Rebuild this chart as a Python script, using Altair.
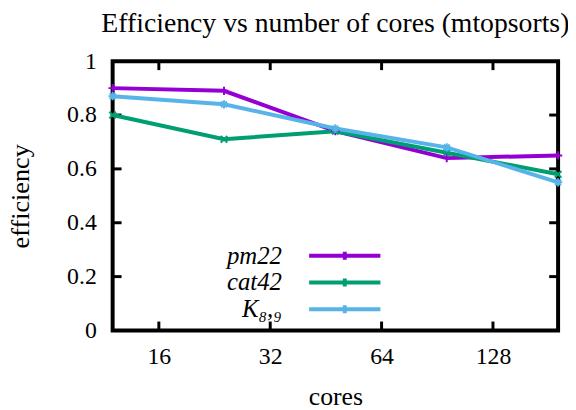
import altair as alt
import pandas as pd

# ---- data ----
cores = [12, 24, 48, 96, 192]
series_names = ["pm22", "cat42", "K₈,₉"]
pm22 = [0.90, 0.89, 0.74, 0.64, 0.65]
cat42 = [0.80, 0.71, 0.74, 0.66, 0.58]
k89 = [0.87, 0.84, 0.75, 0.68, 0.55]
x_tick_values = [16, 32, 64, 128]
y_tick_values = [0, 0.2, 0.4, 0.6, 0.8, 1.0]
inner_y_ticks = [0.2, 0.4, 0.6, 0.8]

colors = ["#9400D3", "#009E73", "#56B4E9"]
markers = [
    "M-1,0H1M0,-1V1",
    "M-0.8,-0.8L0.8,0.8M-0.8,0.8L0.8,-0.8",
    "M-1,0H1M0,-1V1M-0.7,-0.7L0.7,0.7M-0.7,0.7L0.7,-0.7",
]
# legend sample: a line segment drawn to the right of its label, with a small marker
legend_symbol = "M6.667,0H18.667M12.667,-0.667V0.667M12,0H13.333"

rows = []
for name, vals in zip(series_names, [pm22, cat42, k89]):
    for c, v in zip(cores, vals):
        rows.append({"cores": c, "eff": v, "series": name})
df = pd.DataFrame(rows)

SERIF = "Liberation Serif"

x_scale = alt.Scale(type="log", base=2, domain=[cores[0], cores[-1]], nice=False, zero=False)
y_scale = alt.Scale(domain=[y_tick_values[0], y_tick_values[-1]], nice=False, zero=False)

x_axis = alt.Axis(
    values=x_tick_values, format="d", title="cores", grid=False, domain=False,
    ticks=False, tickSize=0, labelFont=SERIF, labelFontSize=24, labelColor="black",
    labelBaseline="alphabetic", labelPadding=33.7, labelFlush=False,
    titleFont=SERIF, titleFontSize=26, titleFontWeight="normal", titleColor="black",
    titleBaseline="alphabetic", titleY=74.7, titleX=225,
)
y_axis = alt.Axis(
    values=y_tick_values, format="~g", title="efficiency", grid=False, domain=False,
    ticks=False, tickSize=0, labelFont=SERIF, labelFontSize=24, labelColor="black",
    labelPadding=16.5, labelFlush=False, labelBaseline="middle",
    titleFont=SERIF, titleFontSize=26.5, titleFontWeight="normal", titleColor="black",
    titleAngle=270, titleBaseline="alphabetic", titleAlign="center",
    titleX=-85, titleY=136,
)

X = alt.X("cores:Q", scale=x_scale, axis=x_axis)
Y = alt.Y("eff:Q", scale=y_scale, axis=y_axis)

color_scale = alt.Scale(domain=series_names, range=colors)

legend = alt.Legend(
    orient="none", legendX=76, legendY=184, title=None, padding=0,
    symbolType=legend_symbol,
    symbolSize=144, symbolStrokeWidth=4, symbolOffset=70,
    labelAlign="right", labelBaseline="middle", labelOffset=0,
    labelFont=SERIF, labelFontStyle="italic", labelFontSize=25, labelColor="black",
    rowPadding=1,
)

lines = alt.Chart(df).mark_line(strokeWidth=4).encode(
    x=X, y=Y,
    color=alt.Color("series:N", scale=color_scale, sort=series_names, legend=legend),
    detail="series:N",
)

# one point layer per series, each with its own gnuplot-like marker
point_layers = []
for name, col, mk in zip(series_names, colors, markers):
    point_layers.append(
        alt.Chart(df).transform_filter(alt.datum.series == name)
        .mark_point(filled=False, size=70, strokeWidth=2, opacity=1, shape=mk, color=col)
        .encode(x=X, y=Y)
    )

# inward tick marks (gnuplot style), drawn through the data scales
left_ticks = pd.DataFrame({"cores": [cores[0]] * len(inner_y_ticks), "eff": inner_y_ticks})
right_ticks = pd.DataFrame({"cores": [cores[-1]] * len(inner_y_ticks), "eff": inner_y_ticks})
bottom_ticks = pd.DataFrame({"cores": x_tick_values, "eff": [y_tick_values[0]] * len(x_tick_values)})
top_ticks = pd.DataFrame({"cores": x_tick_values, "eff": [y_tick_values[-1]] * len(x_tick_values)})

tl = alt.Chart(left_ticks).mark_rule(color="black", strokeWidth=3, x2Offset=9).encode(x=X, x2="cores:Q", y=Y)
tr = alt.Chart(right_ticks).mark_rule(color="black", strokeWidth=3, x2Offset=-9).encode(x=X, x2="cores:Q", y=Y)
tb = alt.Chart(bottom_ticks).mark_rule(color="black", strokeWidth=3, y2Offset=-9).encode(x=X, y=Y, y2="eff:Q")
tt = alt.Chart(top_ticks).mark_rule(color="black", strokeWidth=3, y2Offset=9).encode(x=X, y=Y, y2="eff:Q")

chart = alt.layer(tl, tr, tb, tt, lines, *point_layers).properties(
    width=450,
    height=272,
    title=alt.TitleParams(
        text="Efficiency vs number of cores (mtopsorts)",
        font=SERIF, fontSize=28, fontWeight="normal", color="black",
        anchor="middle", offset=11,
    ),
    autosize=alt.AutoSizeParams(type="none"),
    padding={"left": 105.7, "top": 51.7, "right": 10, "bottom": 78},
).configure(
    background="white"
).configure_view(
    stroke="black", strokeWidth=4
)

chart.save("out.html", embed_options={"renderer": "svg", "actions": False})
